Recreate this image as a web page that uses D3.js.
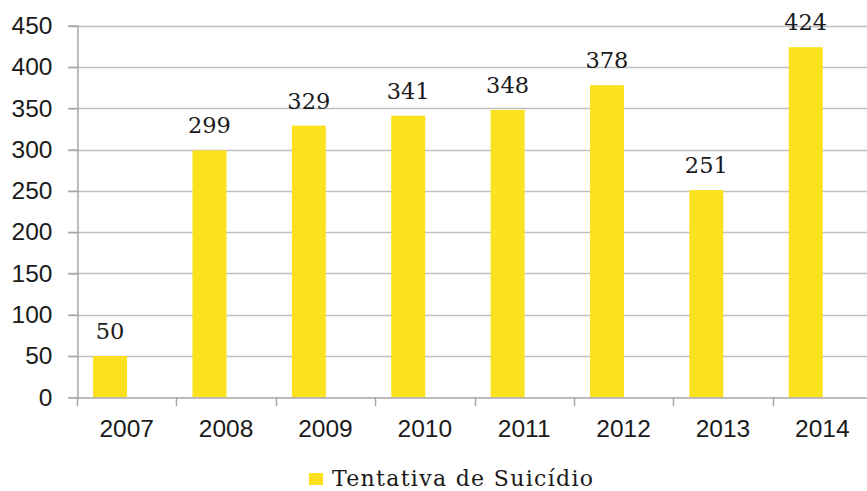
<!DOCTYPE html>
<html>
<head>
<meta charset="utf-8">
<script src="https://cdn.jsdelivr.net/npm/d3@7"></script>
<style>
  html, body { margin: 0; padding: 0; background: #fff; }
  svg { display: block; }
</style>
</head>
<body>
<svg id="chart" width="867" height="491"></svg>
<script>
const categories = ["2007", "2008", "2009", "2010", "2011", "2012", "2013", "2014"];
const values = [50, 299, 329, 341, 348, 378, 251, 424];
const yTicks = [0, 50, 100, 150, 200, 250, 300, 350, 400, 450];
const seriesName = "Tentativa de Suicídio";

(function () {
const svg = d3.select("#chart");
const mLeft = 77, mRight = 872, mTop = 25.7, mBottom = 397.3;

const x = d3.scaleBand().domain(categories).range([mLeft, mRight]).paddingInner(0).paddingOuter(0);
const y = d3.scaleLinear().domain([0, 450]).range([mBottom, mTop]);

const bw = x.bandwidth();
const barOffset = bw * 0.162;
const barWidth = bw * 0.342;

// gridlines
svg.append("g").selectAll("line").data(yTicks.filter(d => d > 0)).join("line")
  .attr("x1", mLeft - 9).attr("x2", 867)
  .attr("y1", d => Math.round(y(d)) + 0.5).attr("y2", d => Math.round(y(d)) + 0.5)
  .attr("stroke", "#bfbfbf").attr("stroke-width", 1.5);

// y axis
const yAxis = svg.append("g").attr("transform", `translate(${mLeft + 0.5},0)`)
  .call(d3.axisLeft(y).tickValues(yTicks).tickSize(9).tickPadding(16));
yAxis.select(".domain").attr("stroke", "#a6a6a6").attr("stroke-width", 1.5);
yAxis.selectAll(".tick line").attr("stroke", "#a6a6a6").attr("stroke-width", 1.5);
yAxis.selectAll(".tick text").attr("font-family", "Liberation Sans, Arial, sans-serif")
  .attr("font-size", 24.5).attr("fill", "#1a1a1a");

// bars
svg.append("g").selectAll("rect").data(values).join("rect")
  .attr("x", (d, i) => x(categories[i]) + barOffset)
  .attr("width", barWidth)
  .attr("y", d => y(d))
  .attr("height", d => y(0) - y(d))
  .attr("fill", "#fce11f");

// x axis
const xAxis = svg.append("g").attr("transform", `translate(0,${Math.round(mBottom) + 0.5})`)
  .call(d3.axisBottom(x).tickSize(0).tickPadding(22));
xAxis.select(".domain").attr("stroke", "#a6a6a6").attr("stroke-width", 1.5);
xAxis.selectAll(".tick text").attr("font-family", "Liberation Sans, Arial, sans-serif")
  .attr("font-size", 24.5).attr("fill", "#1a1a1a");
// tick marks at band boundaries
svg.append("g").selectAll("line").data(categories).join("line")
  .attr("x1", d => Math.round(x(d)) + 0.5).attr("x2", d => Math.round(x(d)) + 0.5)
  .attr("y1", Math.round(mBottom)).attr("y2", Math.round(mBottom) + 9)
  .attr("stroke", "#a6a6a6").attr("stroke-width", 1.5);

// data labels
svg.append("g").selectAll("text").data(values).join("text")
  .attr("x", (d, i) => x(categories[i]) + barOffset + barWidth / 2)
  .attr("y", d => y(d) - 17)
  .attr("text-anchor", "middle")
  .attr("font-family", "DejaVu Serif, serif")
  .attr("font-size", 22.5)
  .attr("fill", "#1a1a1a")
  .text(d => d);

// legend
const lg = svg.append("g");
lg.append("rect").attr("x", 309).attr("y", 473).attr("width", 14).attr("height", 12).attr("fill", "#fce11f");
lg.append("text").attr("x", 332).attr("y", 486)
  .attr("font-family", "DejaVu Serif, serif").attr("font-size", 22).attr("fill", "#1a1a1a")
  .attr("textLength", 261).attr("lengthAdjust", "spacing")
  .text(seriesName);
})();
</script>
</body>
</html>
